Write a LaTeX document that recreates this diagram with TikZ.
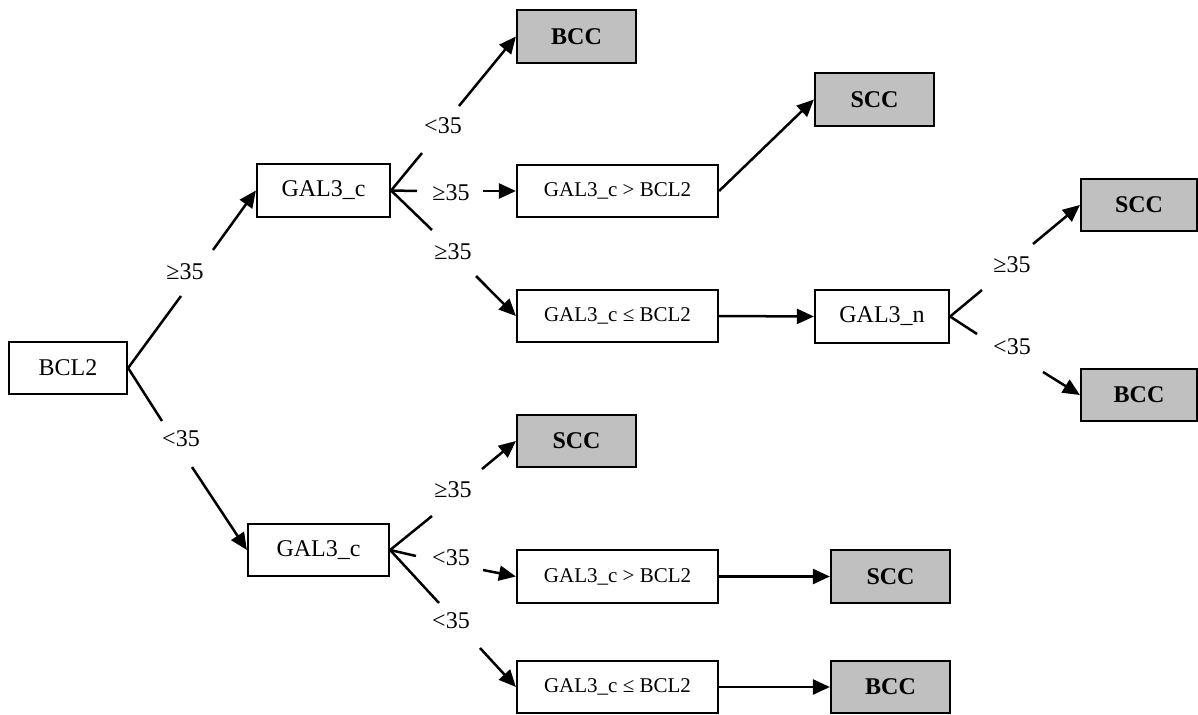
\documentclass[tikz,border=0pt]{standalone}
\usepackage{fontspec}
\setmainfont{Liberation Serif}
\usetikzlibrary{arrows.meta}
\definecolor{leafgray}{RGB}{192,192,192}
\begin{document}
\begin{tikzpicture}[x=1pt,y=-1pt,
  box/.style={draw, line width=2.2pt, minimum height=52pt, inner sep=0pt, font=\fontsize{24}{28}\selectfont},
  leaf/.style={box, fill=leafgray, minimum width=119pt, font=\fontsize{24}{28}\selectfont\bfseries},
  cmp/.style={box, minimum width=201pt, font=\fontsize{21}{25}\selectfont},
  lbl/.style={inner sep=0pt, font=\fontsize{24}{28}\selectfont},
  ln/.style={line width=2.5pt},
  arr/.style={line width=2.5pt, -{Triangle[length=17pt,width=15pt]}}]
\useasboundingbox (0,0) rectangle (1198,714);

% nodes
\node[box, minimum width=118pt] (bcl2) at (68,368) {BCL2};
\node[box, minimum width=133pt, minimum height=53pt] (g1) at (323.5,190.5) {GAL3\_c};
\node[leaf, minimum height=53pt] (bcc1) at (576.5,36.5) {BCC};
\node[cmp] (c1) at (617.5,191) {GAL3\_c > BCL2};
\node[leaf, minimum height=53pt] (scc1) at (874.5,99.5) {SCC};
\node[cmp] (c2) at (617.5,316) {GAL3\_c ≤ BCL2};
\node[box, minimum width=134pt, minimum height=53pt] (g3n) at (882,316.5) {GAL3\_n};
\node[leaf, minimum width=116pt] (scc2) at (1139,205) {SCC};
\node[leaf, minimum width=116pt] (bcc2) at (1139,395) {BCC};
\node[box, minimum width=141pt] (g2) at (318.5,550) {GAL3\_c};
\node[leaf] (scc3) at (576.5,441) {SCC};
\node[cmp, minimum height=53pt] (c3) at (617.5,576.5) {GAL3\_c > BCL2};
\node[leaf, minimum height=53pt] (scc4) at (890.5,576.5) {SCC};
\node[cmp] (c4) at (617.5,687) {GAL3\_c ≤ BCL2};
\node[leaf] (bcc3) at (890.5,687) {BCC};

% labels
\node[lbl] (l1) at (185,272) {≥35};
\node[lbl] (l2) at (181,439) {<35};
\node[lbl] (l3) at (443,126) {<35};
\node[lbl] (l4) at (451,193) {≥35};
\node[lbl] (l5) at (453,252) {≥35};
\node[lbl] (l6) at (1012,265) {≥35};
\node[lbl] (l7) at (1012,347) {<35};
\node[lbl] (l8) at (453,490) {≥35};
\node[lbl] (l9) at (451,558) {<35};
\node[lbl] (l10) at (451,621) {<35};

% break points around labels
\coordinate (a1) at (181,296);  \coordinate (b1) at (213,250);
\coordinate (a2) at (162,421);  \coordinate (b2) at (192,467);
\coordinate (a3) at (422,153);  \coordinate (b3) at (459,106);
\coordinate (a4) at (417,191);  \coordinate (b4) at (483,191);
\coordinate (a5) at (432,230);  \coordinate (b5) at (476,276);
\coordinate (a6) at (982,290);  \coordinate (b6) at (1033,244);
\coordinate (a7) at (977,334);  \coordinate (b7) at (1043,372);
\coordinate (a8) at (432,516);  \coordinate (b8) at (482,469);
\coordinate (a9) at (416,556);  \coordinate (b9) at (483,570);
\coordinate (a10) at (439,603); \coordinate (b10) at (480,648);

% connectors
\draw[ln] (bcl2.east) -- (a1);  \draw[arr] (b1) -- (g1.west);
\draw[ln] (bcl2.east) -- (a2);  \draw[arr] (b2) -- (g2.west);
\draw[ln] (g1.east) -- (a3);    \draw[arr] (b3) -- (bcc1.west);
\draw[ln] (g1.east) -- (a4);    \draw[arr] (b4) -- (c1.west);
\draw[ln] (g1.east) -- (a5);    \draw[arr] (b5) -- (c2.west);
\draw[arr] (c1.east) -- (scc1.west);
\draw[arr] (c2.east) -- (g3n.west);
\draw[ln] (g3n.east) -- (a6);   \draw[arr] (b6) -- (scc2.west);
\draw[ln] (g3n.east) -- (a7);   \draw[arr] (b7) -- (bcc2.west);
\draw[ln] (g2.east) -- (a8);    \draw[arr] (b8) -- (scc3.west);
\draw[ln] (g2.east) -- (a9);    \draw[arr] (b9) -- (c3.west);
\draw[ln] (g2.east) -- (a10);   \draw[arr] (b10) -- (c4.west);
\draw[arr] (c3.east) -- (scc4.west);
\draw[arr] (c4.east) -- (bcc3.west);
\end{tikzpicture}
\end{document}
